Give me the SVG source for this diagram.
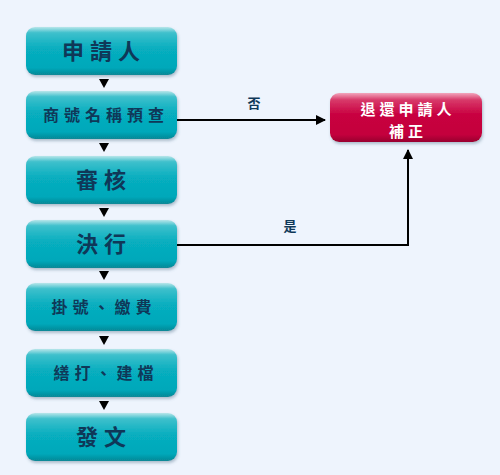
<svg xmlns="http://www.w3.org/2000/svg" width="500" height="475" viewBox="0 0 500 475">
<defs>
<linearGradient id="gt" x1="0" y1="0" x2="0" y2="1">
<stop offset="0" stop-color="#b8e6ea"/>
<stop offset="0.12" stop-color="#3fc0cc"/>
<stop offset="0.45" stop-color="#07aebf"/>
<stop offset="0.85" stop-color="#04a8ba"/>
<stop offset="1" stop-color="#078896"/>
</linearGradient>
<linearGradient id="gr" x1="0" y1="0" x2="0" y2="1">
<stop offset="0" stop-color="#f2a6bd"/>
<stop offset="0.14" stop-color="#d83a6a"/>
<stop offset="0.45" stop-color="#c8003f"/>
<stop offset="0.85" stop-color="#c4003d"/>
<stop offset="1" stop-color="#98002f"/>
</linearGradient>
<filter id="sh" x="-10%" y="-10%" width="125%" height="135%">
<feDropShadow dx="1" dy="2" stdDeviation="1.5" flood-color="#5a7890" flood-opacity="0.45"/>
</filter>
<marker id="ah" markerWidth="10" markerHeight="10" refX="9" refY="5" orient="auto" markerUnits="userSpaceOnUse">
<path d="M0,0 L10,5 L0,10 Z" fill="#000"/>
</marker>
</defs>
<style>
.bt{fill:url(#gt);filter:url(#sh)}
.br{fill:url(#gr);filter:url(#sh)}
.t{font-family:"Noto Sans CJK TC","Noto Sans CJK SC",sans-serif;font-weight:bold;fill:#0f3858;text-anchor:middle}
.big{font-size:22px;letter-spacing:6px}
.sm{font-size:16px;letter-spacing:5px}
.w{font-family:"Noto Sans CJK TC","Noto Sans CJK SC",sans-serif;font-weight:bold;fill:#fff;font-size:15px;letter-spacing:4px;text-anchor:middle}
.lb{font-family:"Noto Sans CJK TC","Noto Sans CJK SC",sans-serif;font-weight:bold;fill:#0f3858;font-size:13px;text-anchor:middle}
.ln{stroke:#000;stroke-width:2;fill:none}
.tri{fill:#000}
</style>
<rect width="500" height="475" fill="#eef4fd"/>
<g id="n1"><rect class="bt" x="26" y="27" width="151" height="48" rx="9"/><text class="t big" x="104" y="59">申請人</text></g>
<g id="n2"><rect class="bt" x="26" y="91" width="151" height="48" rx="9"/><text class="t sm" x="106" y="121">商號名稱預查</text></g>
<g id="n3"><rect class="bt" x="26" y="156" width="151" height="48" rx="9"/><text class="t big" x="104" y="188">審核</text></g>
<g id="n4"><rect class="bt" x="26" y="220" width="151" height="48" rx="9"/><text class="t big" x="104" y="252">決行</text></g>
<g id="n5"><rect class="bt" x="26" y="283" width="151" height="48" rx="9"/><text class="t sm" x="104" y="313">掛號、繳費</text></g>
<g id="n6"><rect class="bt" x="26" y="349" width="151" height="48" rx="9"/><text class="t sm" x="106" y="379">繕打、建檔</text></g>
<g id="n7"><rect class="bt" x="26" y="413" width="151" height="48" rx="9"/><text class="t big" x="104" y="445">發文</text></g>
<g id="n8"><rect class="br" x="330" y="93" width="152" height="49" rx="9"/><text class="w" x="408" y="115">退還申請人</text><text class="w" x="408" y="137">補正</text></g>
<g id="connectors">
<path class="tri" d="M99,79 L109,79 L104,88 Z"/>
<path class="tri" d="M99,143 L109,143 L104,152 Z"/>
<path class="tri" d="M99,208 L109,208 L104,217 Z"/>
<path class="tri" d="M99,271 L109,271 L104,280 Z"/>
<path class="tri" d="M99,336 L109,336 L104,345 Z"/>
<path class="tri" d="M99,401 L109,401 L104,410 Z"/>
<path class="ln" d="M177,120 L325,120" marker-end="url(#ah)"/>
<path class="ln" d="M177,245 L408,245 L408,150" marker-end="url(#ah)"/>
<text class="lb" x="254" y="108">否</text>
<text class="lb" x="290" y="231">是</text>
</g>
</svg>
